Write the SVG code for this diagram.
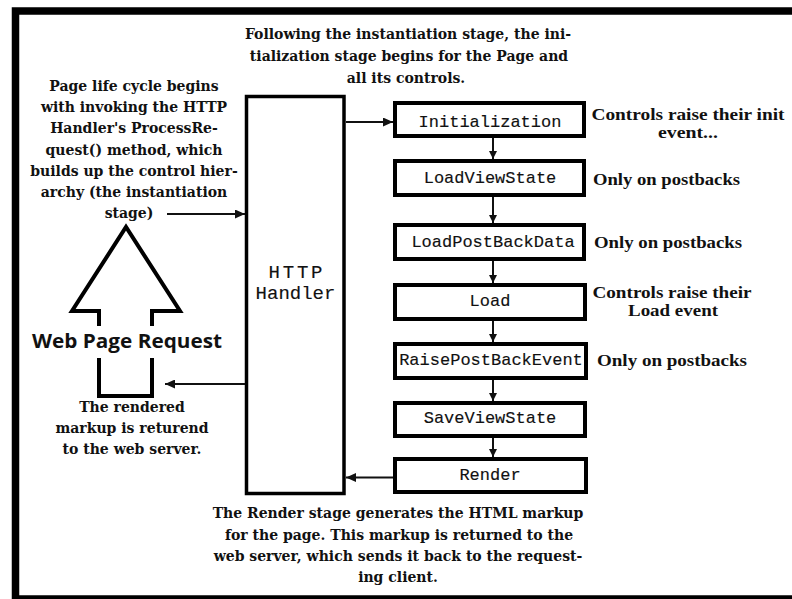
<svg xmlns="http://www.w3.org/2000/svg" width="792" height="599" viewBox="0 0 792 599">
  <style>
    .note { font-family: "DejaVu Serif", "Liberation Serif", serif; font-weight: bold; font-size: 14px; fill: #111; text-anchor: middle; }
    .side { font-family: "Liberation Serif", "DejaVu Serif", serif; font-weight: bold; font-size: 17px; fill: #111; }
    .mono { font-family: "Liberation Mono", "DejaVu Sans Mono", monospace; font-size: 17px; fill: #111; text-anchor: middle; stroke: #111; stroke-width: 0.15; }
    .big { font-family: "Liberation Mono", "DejaVu Sans Mono", monospace; font-size: 19px; fill: #111; text-anchor: middle; stroke: #111; stroke-width: 0.15; }
    .stage { fill: #fff; stroke: #000; stroke-width: 4; }
    .conn { stroke: #111; stroke-width: 2; fill: none; }
  </style>
  <defs>
    <marker id="head" markerUnits="userSpaceOnUse" markerWidth="10" markerHeight="9" refX="10" refY="4.5" orient="auto">
      <path d="M0,0 L10,4.5 L0,9 Z" fill="#111"/>
    </marker>
    <marker id="headSmall" markerUnits="userSpaceOnUse" markerWidth="8" markerHeight="8" refX="8" refY="4" orient="auto">
      <path d="M0,0 L8,4 L0,8 Z" fill="#111"/>
    </marker>
  </defs>

  <rect width="792" height="599" fill="#fff"/>
  <!-- outer frame -->
  <rect x="15.5" y="11" width="790" height="588" fill="none" stroke="#000" stroke-width="7.5"/>

  <!-- top note -->
  <g id="note-init">
    <text class="note" x="408" y="39">Following the instantiation stage, the ini-</text>
    <text class="note" x="409" y="61">tialization stage begins for the Page and</text>
    <text class="note" x="406" y="82.5">all its controls.</text>
  </g>

  <!-- left note -->
  <g id="note-request">
    <text class="note" x="134" y="91">Page life cycle begins</text>
    <text class="note" x="134" y="112.2">with invoking the HTTP</text>
    <text class="note" x="134" y="133.4">Handler's ProcessRe-</text>
    <text class="note" x="134" y="154.6">quest() method, which</text>
    <text class="note" x="134" y="175.8">builds up the control hier-</text>
    <text class="note" x="134" y="197">archy (the instantiation</text>
    <text class="note" x="129" y="218.2">stage)</text>
  </g>

  <!-- web page request arrow -->
  <g id="request">
    <path d="M99,326 V311 H72 L126,227 L180,311 H152 V326" fill="none" stroke="#000" stroke-width="4" stroke-linejoin="miter"/>
    <path d="M99,358 V396 H152 V358" fill="none" stroke="#000" stroke-width="4"/>
    <text x="127" y="348" font-family="'Open Sans', 'Liberation Sans', sans-serif" font-weight="700" font-size="19" fill="#111" text-anchor="middle" textLength="190" lengthAdjust="spacingAndGlyphs">Web Page Request</text>
  </g>

  <!-- returned markup note -->
  <g id="note-returned">
    <text class="note" x="132" y="411.7">The rendered</text>
    <text class="note" x="132" y="433">markup is returend</text>
    <text class="note" x="132" y="454.3">to the web server.</text>
  </g>

  <!-- HTTP handler -->
  <g id="handler">
    <rect x="246.5" y="96.5" width="97.5" height="397" fill="#fff" stroke="#000" stroke-width="3.5"/>
    <text class="big" x="295.5" y="277.5" textLength="54" lengthAdjust="spacing">HTTP</text>
    <text class="big" x="295.5" y="299">Handler</text>
  </g>

  <!-- stages -->
  <g id="initialization">
    <rect class="stage" x="395" y="103" width="189" height="33"/>
    <text class="mono" x="490" y="126.5">Initialization</text>
  </g>
  <g id="loadviewstate">
    <rect class="stage" x="395" y="161" width="189" height="34"/>
    <text class="mono" x="490" y="183">LoadViewState</text>
  </g>
  <g id="loadpostbackdata">
    <rect class="stage" x="395" y="225" width="189" height="34"/>
    <text class="mono" x="493" y="246.5">LoadPostBackData</text>
  </g>
  <g id="load">
    <rect class="stage" x="395" y="285" width="190" height="34"/>
    <text class="mono" x="490" y="305.5">Load</text>
  </g>
  <g id="raisepostbackevent">
    <rect class="stage" x="395" y="344" width="191" height="34"/>
    <text class="mono" x="491" y="364.5">RaisePostBackEvent</text>
  </g>
  <g id="saveviewstate">
    <rect class="stage" x="395" y="403" width="190" height="33"/>
    <text class="mono" x="490" y="423">SaveViewState</text>
  </g>
  <g id="render">
    <rect class="stage" x="395" y="459" width="191" height="33"/>
    <text class="mono" x="490" y="479.5">Render</text>
  </g>

  <!-- side notes -->
  <g id="note-initevent">
    <text class="side" x="688" y="120" text-anchor="middle" textLength="193" lengthAdjust="spacingAndGlyphs">Controls raise their init</text>
    <text class="side" x="688" y="138" text-anchor="middle" textLength="60" lengthAdjust="spacingAndGlyphs">event...</text>
  </g>
  <g id="note-lvs">
    <text class="side" x="593" y="185" textLength="147" lengthAdjust="spacingAndGlyphs">Only on postbacks</text>
  </g>
  <g id="note-lpbd">
    <text class="side" x="594" y="248" textLength="148" lengthAdjust="spacingAndGlyphs">Only on postbacks</text>
  </g>
  <g id="note-loadevent">
    <text class="side" x="672" y="298" text-anchor="middle" textLength="159" lengthAdjust="spacingAndGlyphs">Controls raise their</text>
    <text class="side" x="673" y="315.5" text-anchor="middle" textLength="90" lengthAdjust="spacingAndGlyphs">Load event</text>
  </g>
  <g id="note-rpbe">
    <text class="side" x="597" y="365.5" textLength="150" lengthAdjust="spacingAndGlyphs">Only on postbacks</text>
  </g>

  <!-- render note -->
  <g id="note-render">
    <text class="note" x="398" y="518">The Render stage generates the HTML markup</text>
    <text class="note" x="399" y="539.5">for the page. This markup is returned to the</text>
    <text class="note" x="398" y="561">web server, which sends it back to the request-</text>
    <text class="note" x="398" y="582">ing client.</text>
  </g>

  <!-- connectors -->
  <g id="connectors">
    <line class="conn" x1="167" y1="214" x2="245" y2="214" marker-end="url(#head)"/>
    <line class="conn" x1="346" y1="122" x2="393" y2="122" marker-end="url(#head)"/>
    <line class="conn" x1="493" y1="138" x2="493" y2="159" marker-end="url(#headSmall)"/>
    <line class="conn" x1="493" y1="197" x2="493" y2="223" marker-end="url(#headSmall)"/>
    <line class="conn" x1="493" y1="261" x2="493" y2="283" marker-end="url(#headSmall)"/>
    <line class="conn" x1="493" y1="321" x2="493" y2="342" marker-end="url(#headSmall)"/>
    <line class="conn" x1="493" y1="380" x2="493" y2="401" marker-end="url(#headSmall)"/>
    <line class="conn" x1="493" y1="438" x2="493" y2="457" marker-end="url(#headSmall)"/>
    <line class="conn" x1="393" y1="477.5" x2="346" y2="477.5" marker-end="url(#head)"/>
    <line class="conn" x1="245" y1="384" x2="165" y2="384" marker-end="url(#head)"/>
  </g>
</svg>
